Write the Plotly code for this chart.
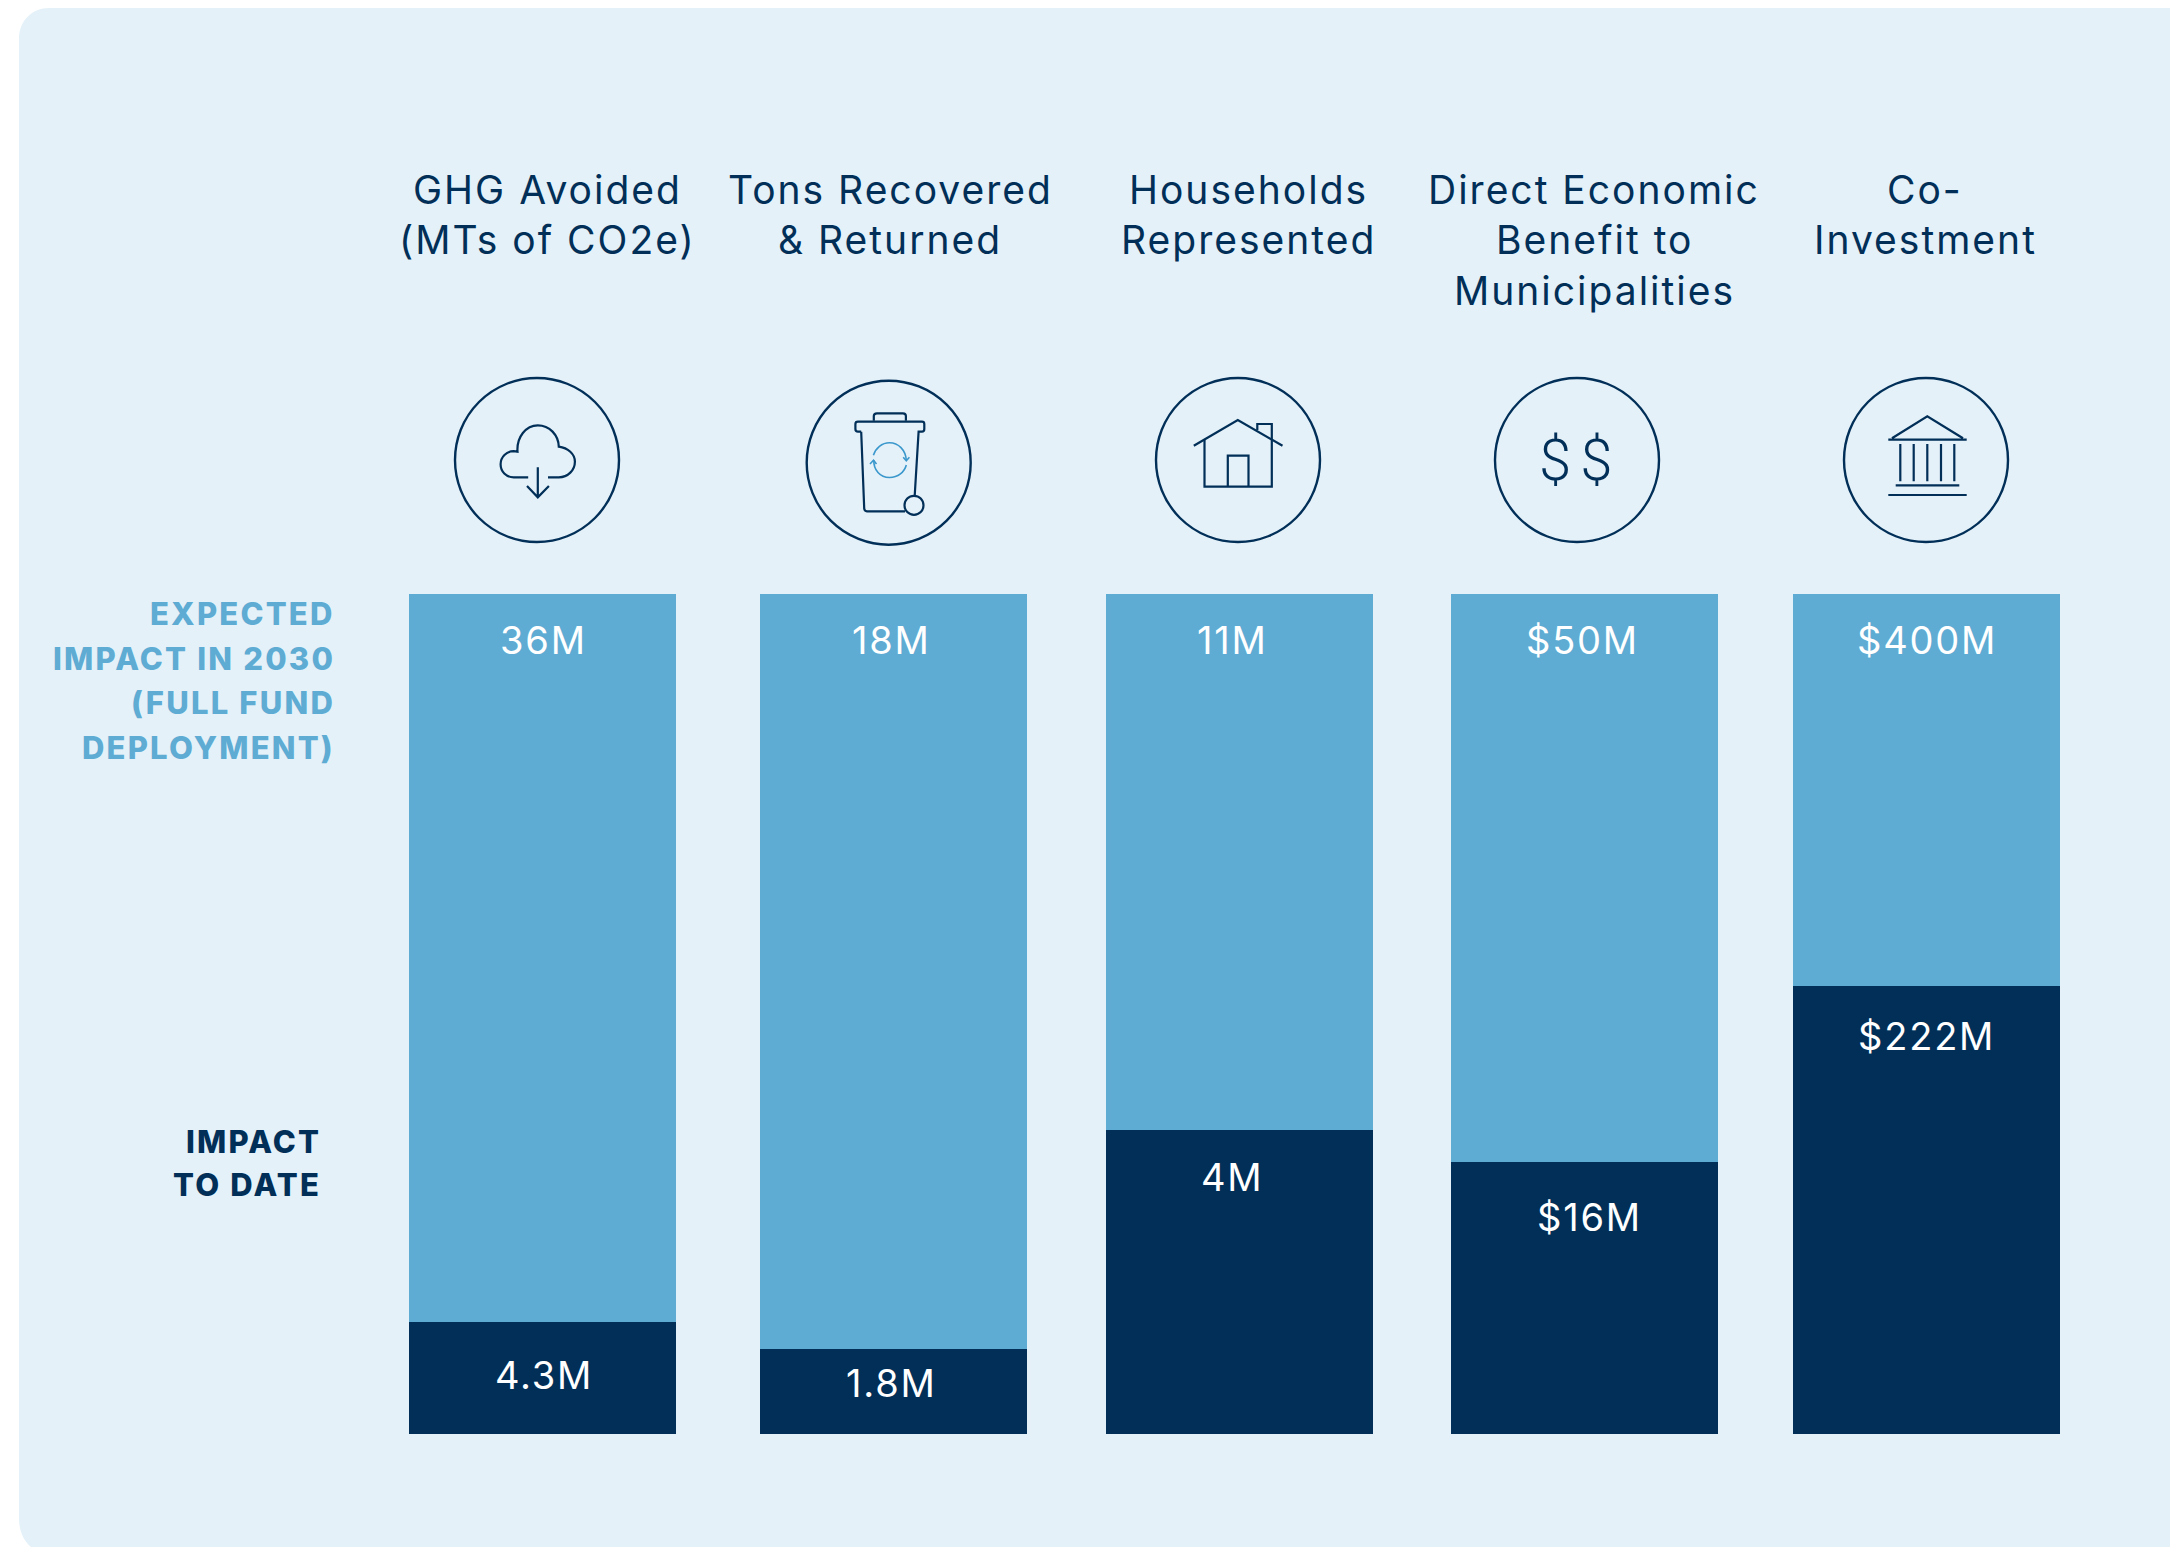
import re
import plotly.graph_objects as go

W, H = 2170, 1547

categories = ["GHG Avoided (MTs of CO2e)", "Tons Recovered & Returned", "Households Represented",
              "Direct Economic Benefit to Municipalities", "Co-Investment"]
header_lines = [["GHG Avoided", "(MTs of CO2e)"], ["Tons Recovered", "& Returned"], ["Households", "Represented"],
                ["Direct Economic", "Benefit to", "Municipalities"], ["Co-", "Investment"]]
# bar heights as drawn, share of the full column
to_date_share = [13.35, 10.1, 36.2, 32.4, 53.3]
expected_share = [86.65, 89.9, 63.8, 67.6, 46.7]
expected_labels = ["36M", "18M", "11M", "$50M", "$400M"]
to_date_labels = ["4.3M", "1.8M", "4M", "$16M", "$222M"]
expected_note = ["EXPECTED", "IMPACT IN 2030", "(FULL FUND", "DEPLOYMENT)"]
to_date_note = ["IMPACT", "TO DATE"]

BG = "#e4f1f9"
LIGHT = "#5eabd3"
DARK = "#012f58"
ACCENT = "#3b98cc"
FONT = "Inter"

# layout, px
bar_edges = [(409, 676), (760, 1027), (1106, 1373), (1451, 1718), (1793, 2060)]
bar_top, bar_bottom = 594, 1434
header_x = [547, 890, 1248, 1594, 1925]
header_y = [189, 239, 290]
expected_label_dx = [1, -2, -7, -2, 0]
to_date_label_dx = [1, -2, -8, 5, 0]
expected_label_dy = 46
to_date_label_dy = [53, 34, 47, 55, 50]


def px(x):
    return x / W


def py(y):
    return 1 - y / H


def spaced(text, amount):
    return f'<span style="letter-spacing:{amount}px">{text}</span>'


def path(d):
    toks = re.findall(r"[A-Za-z]|-?\d+\.?\d*", d)
    out, i = [], 0
    for t in toks:
        if t.isalpha():
            out.append(t)
        else:
            out.append(f"{px(float(t)):.6f}" if i % 2 == 0 else f"{py(float(t)):.6f}")
            i += 1
    return " ".join(out)


fig = go.Figure()
layout = dict(
    width=W, height=H, autosize=False, margin=dict(l=0, r=0, t=0, b=0),
    paper_bgcolor="white", plot_bgcolor="rgba(0,0,0,0)", barmode="stack", bargap=0, showlegend=False,
    yaxis=dict(domain=[py(bar_bottom), py(bar_top)], range=[0, 100], visible=False, fixedrange=True),
)
annotations, shapes = [], []

for i, cat in enumerate(categories):
    n = "" if i == 0 else str(i + 1)
    l, r = bar_edges[i]
    layout[f"xaxis{n}"] = dict(domain=[px(l), px(r)], type="category", range=[-0.5, 0.5], visible=False,
                               anchor="y", fixedrange=True)
    fig.add_bar(x=[cat], y=[to_date_share[i]], marker=dict(color=DARK, line_width=0), xaxis=f"x{n}", yaxis="y",
                width=1, name="Impact to date", hoverinfo="skip")
    fig.add_bar(x=[cat], y=[expected_share[i]], marker=dict(color=LIGHT, line_width=0), xaxis=f"x{n}", yaxis="y",
                width=1, name="Expected impact in 2030", hoverinfo="skip")
    annotations.append(dict(x=cat, y=to_date_share[i] + expected_share[i], xref=f"x{n}", yref="y",
                            text=spaced(expected_labels[i], 1.8), showarrow=False, xshift=expected_label_dx[i],
                            yshift=-expected_label_dy, yanchor="middle",
                            font=dict(family=FONT, size=38, color="white")))
    annotations.append(dict(x=cat, y=to_date_share[i], xref=f"x{n}", yref="y",
                            text=spaced(to_date_labels[i], 1.8), showarrow=False, xshift=to_date_label_dx[i],
                            yshift=-to_date_label_dy[i], yanchor="middle",
                            font=dict(family=FONT, size=38, color="white")))
    for k, line in enumerate(header_lines[i]):
        annotations.append(dict(x=px(header_x[i]), y=py(header_y[k]), xref="paper", yref="paper",
                                text=spaced(line, 2.0), showarrow=False, xanchor="center", yanchor="middle",
                                font=dict(family=FONT, size=39, color=DARK)))

for k, (line, y) in enumerate(zip(expected_note, [614, 658, 703, 747])):
    annotations.append(dict(x=px(337), y=py(y), xref="paper", yref="paper", text=spaced(line, 2.2),
                            showarrow=False, xanchor="right", yanchor="middle",
                            font=dict(family=FONT, size=31, weight=800, color=LIGHT)))
for k, (line, y) in enumerate(zip(to_date_note, [1141, 1184])):
    annotations.append(dict(x=px(323), y=py(y), xref="paper", yref="paper", text=spaced(line, 2.2),
                            showarrow=False, xanchor="right", yanchor="middle",
                            font=dict(family=FONT, size=31, weight=800, color=DARK)))
annotations.append(dict(x=px(1580), y=py(460), xref="paper", yref="paper", text=spaced("$$", 9), showarrow=False,
                        xanchor="center", yanchor="middle",
                        font=dict(family="Roboto", size=58, weight=300, color=DARK)))

# panel
shapes.append(dict(type="path", xref="paper", yref="paper", layer="below", fillcolor=BG, line_width=0,
                   path=path("M19 38 C19 21 32 8 49 8 L2170 8 L2170 1547 L31 1547 C24 1541 19 1532 19 1518 Z")))

# icon rings
for cx, cy in [(537, 460), (888.7, 462.7), (1238, 460), (1577, 460), (1926, 460)]:
    rr = 82
    shapes.append(dict(type="circle", xref="paper", yref="paper", x0=px(cx - rr), x1=px(cx + rr), y0=py(cy + rr),
                       y1=py(cy - rr), line=dict(color=DARK, width=2.4)))

icons = [
    # cloud
    "M528.2 477.3 L513.7 477.3 C506 477.3 500.6 471.5 500.6 464.3 C500.6 457 506.5 451.2 513.7 451.2 L517.5 451.7 "
    "C516.5 437 526 425.3 537.8 425.3 C549.5 425.3 558.5 435 558.8 446.7 C568 448 574.9 454 574.9 461.7 "
    "C574.9 470 568 477.3 558.8 477.3 L548 477.3",
    "M537.8 467.3 L537.8 497.3 M527 486 L537.8 497.3 L548.9 486",
    # bin
    "M873.8 420.7 L873.8 416 C873.8 414 875 413.3 877 413.3 L903 413.3 C905 413.3 905.9 414 905.9 416 L905.9 420.7",
    "M858 421.7 L922 421.7 C923.5 421.7 924.3 422.5 924.3 424 L924.3 429 C924.3 431 923.5 431.7 922 431.7 L918.6 431.7 "
    "L914.7 495.7 M861.2 431.7 L858 431.7 C856.2 431.7 855.4 431 855.4 429 L855.4 424 C855.4 422.5 856.2 421.7 858 421.7 "
    "M861.2 431.7 L864.2 508.3 C864.3 510.5 865 511.3 867 511.3 L905 511.3",
    "M904.5 505.3 C904.5 500 908.7 495.8 914 495.8 C919.3 495.8 923.5 500 923.5 505.3 C923.5 510.6 919.3 514.8 914 514.8 "
    "C908.7 514.8 904.5 510.6 904.5 505.3 Z",
    # house
    "M1193.8 445.7 L1237.8 420 L1282.5 445.7",
    "M1204.5 439.3 L1204.5 486.7 L1271.8 486.7 L1271.8 424 L1257.3 424 L1257.3 430",
    "M1227.8 486.7 L1227.8 455.7 L1248.5 455.7 L1248.5 486.7",
    # bank
    "M1888.3 439.7 L1966.7 439.7 M1892 438.2 L1927.3 416.3 L1963 438.2",
    "M1900.3 444 L1900.3 481.3 M1913.7 444 L1913.7 481.3 M1927.3 444 L1927.3 481.3 M1941 444 L1941 481.3 "
    "M1954.3 444 L1954.3 481.3",
    "M1895.7 485.3 L1959.3 485.3",
    "M1888.3 495 L1966.7 495",
]
for d in icons:
    shapes.append(dict(type="path", xref="paper", yref="paper", path=path(d), line=dict(color=DARK, width=2.2)))

recycle = [
    "M873.4 455.3 C875.5 448 882 442.7 889.5 442.7 C898.5 442.7 905.5 450 906.3 460",
    "M903.2 457.3 L906.3 460.7 L909.4 457.3",
    "M906.3 465 C904.5 472 898 477.5 889.5 477.5 C880 477.5 873.5 470 873.8 460",
    "M870 464 L873.5 460.3 L876.5 464",
]
for d in recycle:
    shapes.append(dict(type="path", xref="paper", yref="paper", path=path(d), line=dict(color=ACCENT, width=1.6)))

layout["annotations"] = annotations
layout["shapes"] = shapes
fig.update_layout(**layout)
fig.write_html("out.html", config=dict(displayModeBar=False),
               post_script="document.body.style.margin='0';document.body.style.overflow='hidden';")
